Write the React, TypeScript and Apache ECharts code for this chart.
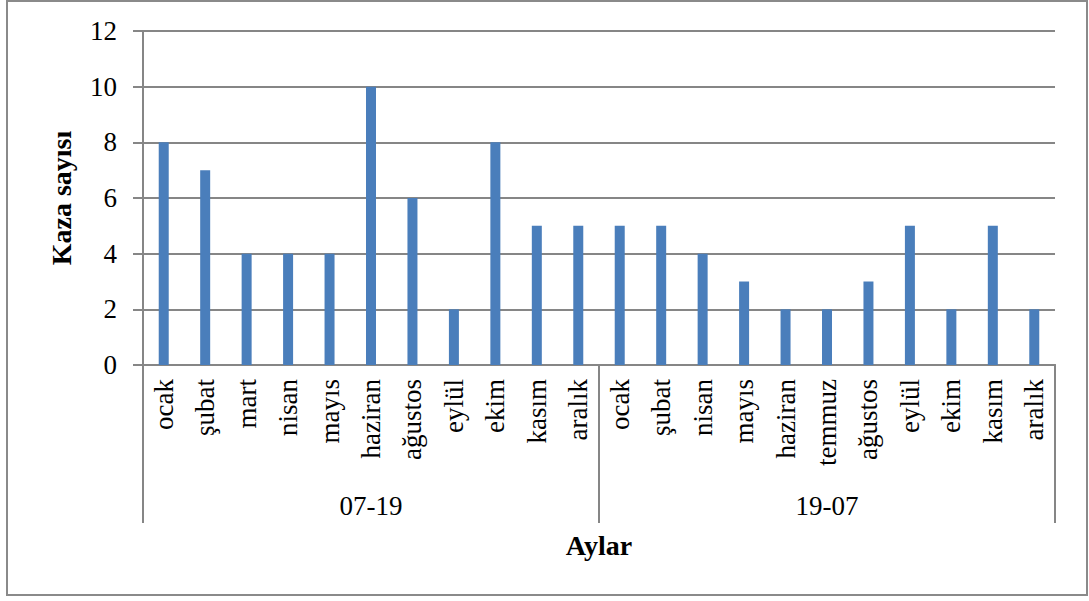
import React, { useEffect, useRef } from "react";
import * as echarts from "echarts";

const months = [
  "ocak", "şubat", "mart", "nisan", "mayıs", "haziran", "ağustos", "eylül", "ekim", "kasım", "aralık",
  "ocak", "şubat", "nisan", "mayıs", "haziran", "temmuz", "ağustos", "eylül", "ekim", "kasım", "aralık",
];
const groups = ["07-19", "19-07"];
const values = [8, 7, 4, 4, 4, 10, 6, 2, 8, 5, 5, 5, 5, 4, 3, 2, 2, 3, 5, 2, 5, 2];
const yTicks = { min: 0, max: 12, interval: 2 };

const FONT = "'Liberation Serif', 'Times New Roman', serif";
const GRAY = "#868686";

export default function App() {
  const ref = useRef<HTMLDivElement>(null);
  useEffect(() => {
    if (!ref.current) return;
    const chart = echarts.init(ref.current, null, { renderer: "svg" });
    chart.setOption({
      animation: false,
      backgroundColor: "#fff",
      textStyle: { fontFamily: FONT },
      graphic: [
        {
          type: "rect",
          shape: { x: 7, y: 1, width: 1080, height: 594 },
          style: { fill: "none", stroke: "#8a8a8a", lineWidth: 2 },
          silent: true,
        },
      ],
      grid: { left: 143, right: 34, top: 31, bottom: 236 },
      xAxis: [
        {
          type: "category",
          data: months,
          position: "bottom",
          axisLine: { lineStyle: { color: GRAY, width: 2 } },
          axisTick: { show: false },
          axisLabel: {
            interval: 0,
            rotate: 90,
            margin: 14,
            color: "#000",
            fontFamily: FONT,
            fontSize: 27,
          },
        },
        {
          type: "category",
          data: groups,
          position: "bottom",
          boundaryGap: true,
          axisLine: { show: true, lineStyle: { color: GRAY, width: 2 } },
          axisTick: { show: true, inside: false, length: 158, interval: 0, lineStyle: { color: GRAY, width: 2 } },
          axisLabel: { interval: 0, margin: 127, color: "#000", fontFamily: FONT, fontSize: 27 },
          name: "Aylar",
          nameLocation: "middle",
          nameGap: 166,
          nameTextStyle: { color: "#000", fontFamily: FONT, fontSize: 28, fontWeight: "bold" },
        },
      ],
      yAxis: {
        type: "value",
        min: yTicks.min,
        max: yTicks.max,
        interval: yTicks.interval,
        axisLine: { show: true, lineStyle: { color: GRAY, width: 2 } },
        axisTick: { show: true, length: 10, lineStyle: { color: GRAY, width: 2 } },
        splitLine: { show: true, lineStyle: { color: GRAY, width: 2 } },
        axisLabel: { margin: 26, color: "#000", fontFamily: FONT, fontSize: 27 },
        name: "Kaza sayısı",
        nameLocation: "middle",
        nameGap: 68,
        nameRotate: 90,
        nameTextStyle: { color: "#000", fontFamily: FONT, fontSize: 28, fontWeight: "bold" },
      },
      series: [
        {
          type: "bar",
          xAxisIndex: 0,
          data: values,
          barWidth: 10,
          itemStyle: { color: "#4a7ebb" },
        },
      ],
    });
    return () => chart.dispose();
  }, []);
  return (
    <div
      ref={ref}
      style={{ position: "absolute", left: 0, top: 0, width: 1089, height: 601 }}
    />
  );
}
